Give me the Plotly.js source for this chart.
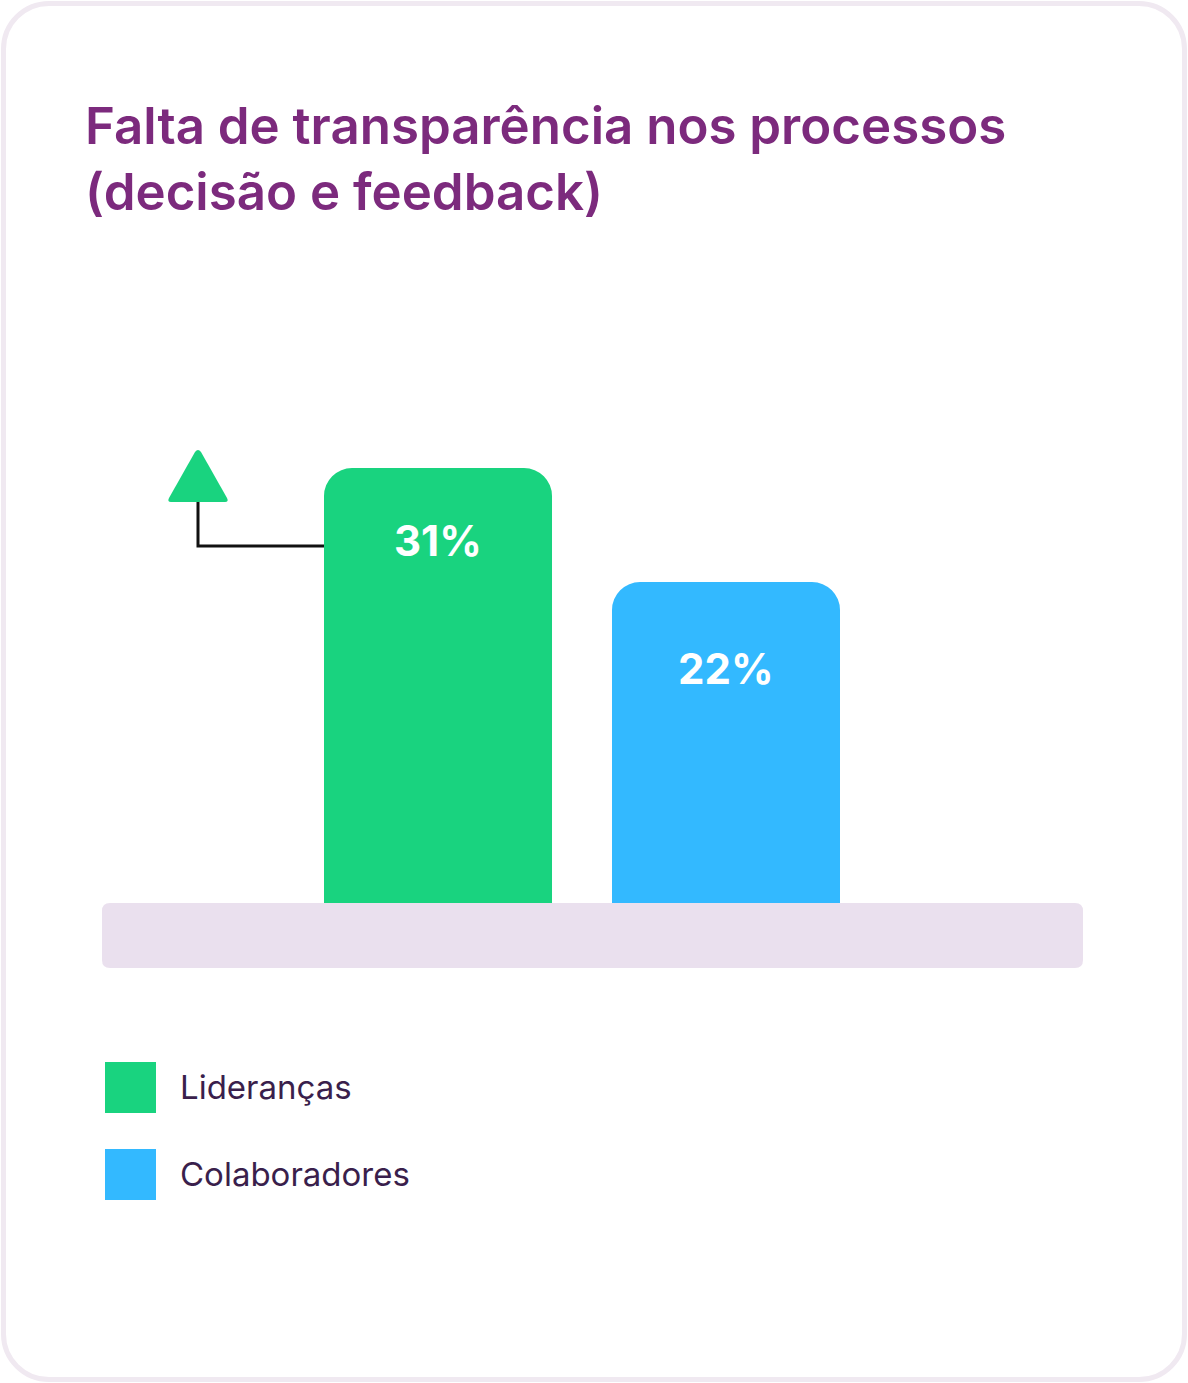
<!DOCTYPE html>
<html>
<head>
<meta charset="utf-8">
<script src="https://cdn.plot.ly/plotly-3.0.1.min.js"></script>
<style>
  html, body { margin: 0; padding: 0; background: #ffffff; }
  #wrap { position: relative; width: 1188px; height: 1383px; }
  #chart { position: absolute; left: 0; top: 0; width: 1188px; height: 1383px; }
  #card {
    position: absolute; left: 1px; top: 1px; width: 1176px; height: 1371px;
    border: 5px solid #f0e9f1; border-radius: 48px; pointer-events: none;
  }
</style>
</head>
<body>
<div id="wrap">
  <div id="chart"></div>
  <div id="card"></div>
</div>
<script>
// -----------------------------
// Data
// -----------------------------
const titleText = "Falta de transparência nos processos<br>(decisão e feedback)";
const categories = ["Lideranças", "Colaboradores"];
const values = [31, 22];
const valueLabels = ["31%", "22%"];
const colors = ["#19d37f", "#33b9ff"];

// -----------------------------
// Layout constants (pixels)
// -----------------------------
const W = 1188, H = 1383;
const plotLeft = 102, plotRight = 1083, plotTop = 420, plotBottom = 903;
const axisStart = -3.34;          // value sitting on the floor strip
const pxPerUnit = 12.667;
const axisEnd = axisStart + (plotBottom - plotTop) / pxPerUnit;
const barBase = axisStart - 5;    // bars run under the floor, bottom clipped
const labelDrop = [72, 86];       // label centre below bar top
const fontFamily = "Inter, 'Open Sans', sans-serif";

// -----------------------------
// Traces
// -----------------------------
const traces = categories.map((name, i) => ({
  type: "bar",
  name: name,
  x: [name],
  y: [values[i] - barBase],
  base: [barBase],
  width: 0.7917,
  cliponaxis: true,
  marker: { color: colors[i], cornerradius: 28, line: { width: 0 } },
  hoverinfo: "skip",
  showlegend: false
}));

const labels = categories.map((name, i) => ({
  x: name, xref: "x",
  y: values[i], yref: "y",
  yshift: -labelDrop[i],
  yanchor: "middle",
  text: "<b>" + valueLabels[i] + "</b>",
  showarrow: false,
  font: { family: fontFamily, size: 42, color: "#ffffff" }
}));

// custom legend: big square swatches + names
const legendShapes = categories.map((name, i) => ({
  type: "rect",
  xref: "paper", yref: "paper", xsizemode: "pixel", ysizemode: "pixel",
  xanchor: 0, yanchor: 0,
  x0: 3, x1: 54, y0: -159 - 87 * i, y1: -210 - 87 * i,
  fillcolor: colors[i], line: { width: 0 }
}));

const legendTexts = categories.map((name, i) => ({
  xref: "paper", yref: "paper", x: 0, y: 0,
  xshift: 76, yshift: -184 - 87 * i,
  xanchor: "left", yanchor: "middle",
  text: name, showarrow: false,
  font: { family: fontFamily, size: 33, color: "#3a1f4c" }
}));

// floor strip under the bars
const floorShape = {
  type: "path", layer: "above",
  xref: "paper", yref: "paper", xsizemode: "pixel", ysizemode: "pixel",
  xanchor: 0, yanchor: 0,
  path: "M 8,0 H 973 Q 981,0 981,-8 V -57 Q 981,-65 973,-65 H 8 Q 0,-65 0,-57 V -8 Q 0,0 8,0 Z",
  fillcolor: "#eae0ee", line: { width: 0 }
};

// up-arrow marker pointing from the leading bar
const connector = {
  type: "path",
  xref: "paper", yref: "paper", xsizemode: "pixel", ysizemode: "pixel",
  xanchor: 0, yanchor: 0,
  path: "M 96,402 V 357 H 222",
  fillcolor: "rgba(0,0,0,0)", line: { color: "#111111", width: 3 }
};
const triangle = {
  type: "path",
  xref: "paper", yref: "paper", xsizemode: "pixel", ysizemode: "pixel",
  xanchor: 0, yanchor: 0,
  path: "M 93,451 Q 96,455 99,451 L 125,405 Q 127,401 123,401 L 69,401 Q 65,401 67,405 Z",
  fillcolor: "#19d37f", line: { width: 0 }
};

const layout = {
  width: W, height: H,
  paper_bgcolor: "rgba(0,0,0,0)",
  plot_bgcolor: "rgba(0,0,0,0)",
  margin: { l: plotLeft, r: W - plotRight, t: plotTop, b: H - plotBottom, pad: 0 },
  barmode: "overlay",
  title: {
    text: titleText,
    x: 85 / W, xref: "container", xanchor: "left",
    y: 1 - 144 / H, yref: "container", yanchor: "top",
    font: { family: fontFamily, size: 51, weight: 600, color: "#7c2a7d" }
  },
  xaxis: {
    type: "category",
    range: [-1.1667, 2.2396],
    showgrid: false, zeroline: false, showline: false,
    showticklabels: false, ticks: "", fixedrange: true
  },
  yaxis: {
    range: [axisStart, axisEnd],
    showgrid: false, zeroline: false, showline: false,
    showticklabels: false, ticks: "", fixedrange: true
  },
  shapes: [floorShape, connector, triangle, ...legendShapes],
  annotations: [...labels, ...legendTexts],
  showlegend: false
};

Plotly.newPlot("chart", traces, layout, { displayModeBar: false, staticPlot: true });
</script>
</body>
</html>
